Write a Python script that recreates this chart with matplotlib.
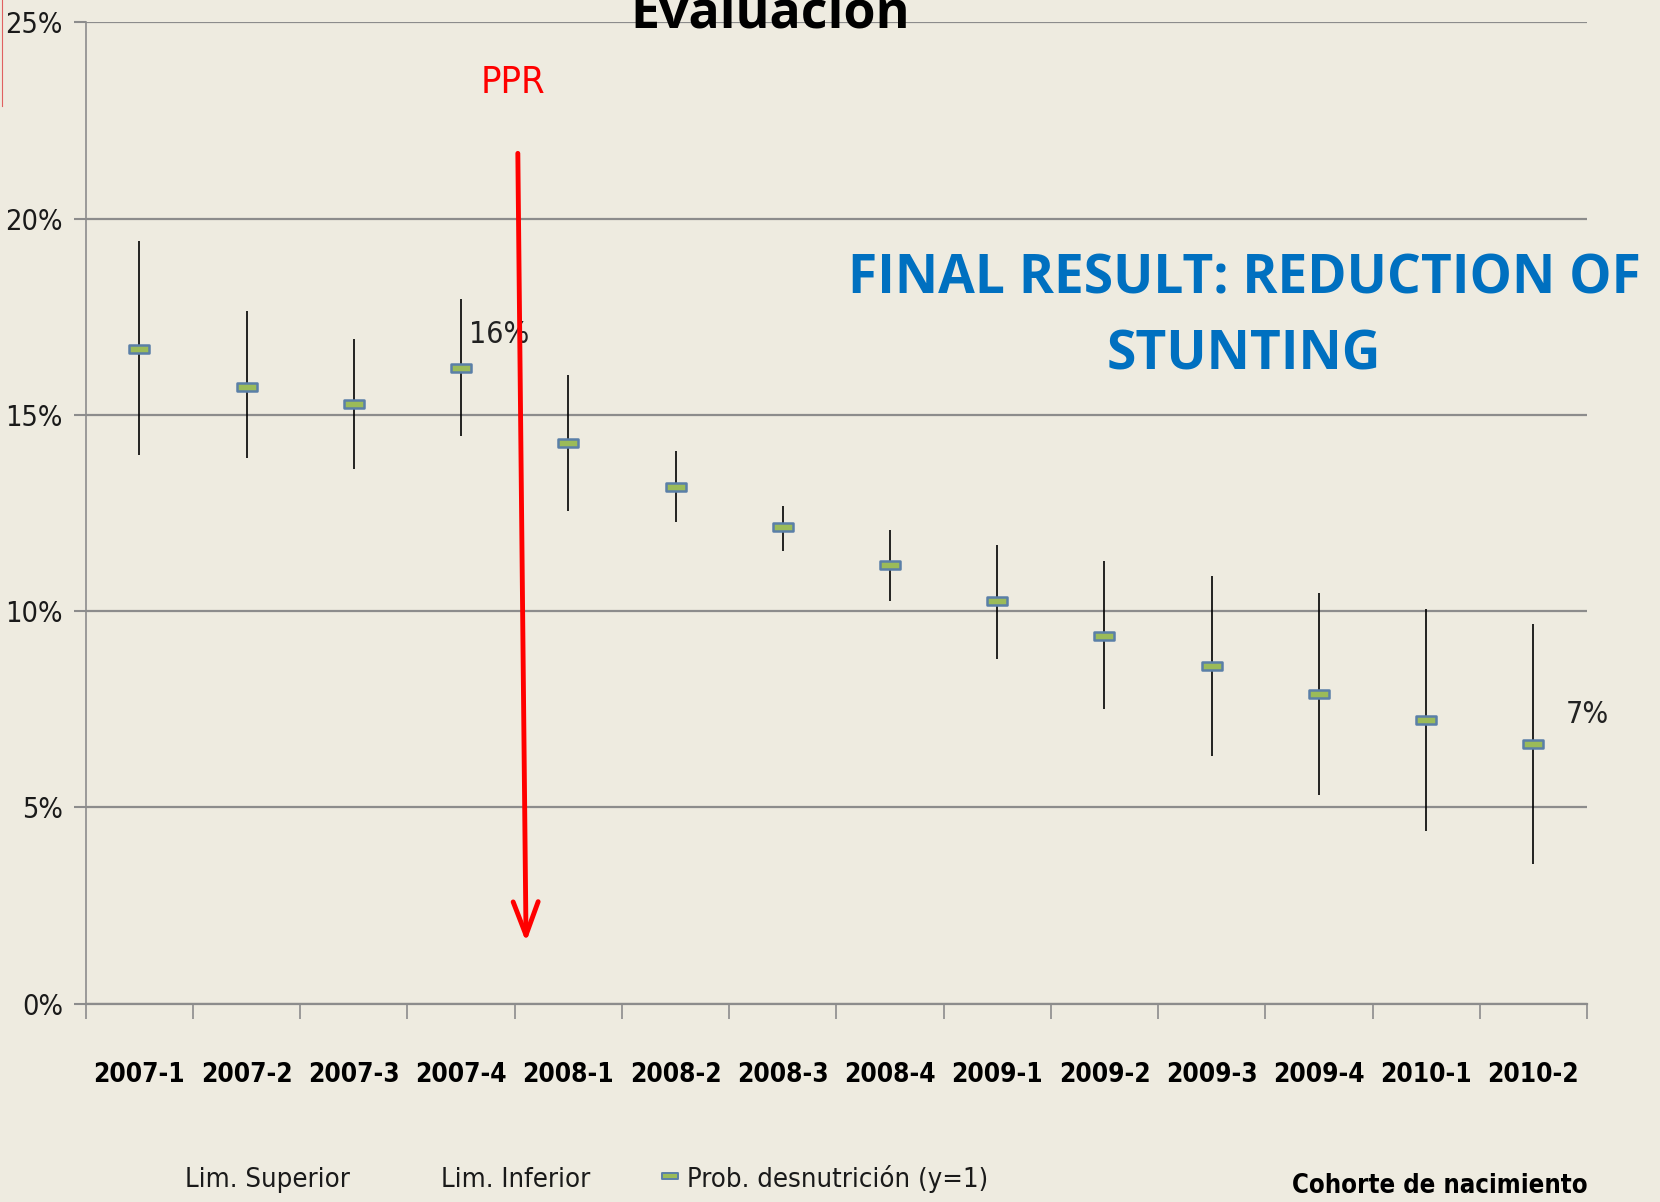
import os
import matplotlib
matplotlib.use("Agg")
import matplotlib.pyplot as plt
from matplotlib.path import Path
from matplotlib.lines import Line2D
from matplotlib import font_manager as fm
from matplotlib.font_manager import FontProperties
import numpy as np

# ---- data ----
cohorts = ["2007-1", "2007-2", "2007-3", "2007-4", "2008-1", "2008-2", "2008-3",
           "2008-4", "2009-1", "2009-2", "2009-3", "2009-4", "2010-1", "2010-2"]
prob = [16.67, 15.70, 15.27, 16.18, 14.29, 13.16, 12.14, 11.17, 10.25, 9.36, 8.60, 7.88, 7.23, 6.61]
lim_sup = [19.44, 17.64, 16.94, 17.96, 16.02, 14.08, 12.68, 12.06, 11.68, 11.27, 10.90, 10.46, 10.06, 9.68]
lim_inf = [13.97, 13.89, 13.62, 14.46, 12.54, 12.27, 11.54, 10.25, 8.79, 7.50, 6.31, 5.31, 4.40, 3.56]
y_ticks = [0, 5, 10, 15, 20, 25]
y_tick_labels = ["0%", "5%", "10%", "15%", "20%", "25%"]

# ---- font selection: prefer a narrow / condensed face ----
all_files = set(f.fname for f in fm.fontManager.ttflist)
try:
    all_files |= set(fm.findSystemFonts())
except Exception:
    pass
by_base = {os.path.basename(p).lower(): p for p in all_files}


def pick(pairs):
    for reg, bold in pairs:
        if reg.lower() in by_base and bold.lower() in by_base:
            return by_base[reg.lower()], by_base[bold.lower()]
    return None


found = pick([("LiberationSansNarrow-Regular.ttf", "LiberationSansNarrow-Bold.ttf"),
              ("NotoSans-Condensed.ttf", "NotoSans-CondensedBold.ttf"),
              ("DejaVuSansCondensed.ttf", "DejaVuSansCondensed-Bold.ttf")])
if found:
    fp_reg = FontProperties(fname=found[0])
    fp_bold = FontProperties(fname=found[1])
else:
    fp_reg = FontProperties(family="Roboto")
    fp_bold = FontProperties(family="Roboto", weight="bold")
fp_title = FontProperties(family="Open Sans", weight="bold")

bg = "#EEEBE0"
grid_c = "#8C8C8C"
W, H = 1660, 1202

fig = plt.figure(figsize=(16.6, 12.02), dpi=100, facecolor=bg)
renderer = fig.canvas.get_renderer()


def fitted_size(fp, s, target_w, cap_px, mix=0.0):
    t = fig.text(0, 0, s, fontproperties=fp, fontsize=20)
    w = t.get_window_extent(renderer).width
    t.remove()
    s_w = 20.0 * target_w / w
    s_h = cap_px / 0.72 / (100.0 / 72.0)
    if s_w >= s_h:
        return s_h
    return s_w ** (1 - mix) * s_h ** mix


def sized(fp, size):
    f = fp.copy()
    f.set_size(size)
    return f


ax = fig.add_axes([0.0517, 0.165, 0.9043, 0.8165])
ax.set_facecolor(bg)

x = np.arange(len(cohorts))
ax.set_xlim(-0.5, len(cohorts) - 0.5)
ax.set_ylim(0, 25)

for s in ["top", "right"]:
    ax.spines[s].set_visible(False)
ax.spines["left"].set_color(grid_c)
ax.spines["bottom"].set_color(grid_c)
ax.spines["left"].set_linewidth(1.2)
ax.spines["bottom"].set_linewidth(1.6)

ytick_size = fitted_size(fp_reg, "20%", 49, 28, mix=0.35)
ax.set_yticks(y_ticks)
ax.set_yticklabels(y_tick_labels, fontproperties=sized(fp_reg, ytick_size), color="#1a1a1a")
ax.tick_params(axis="y", length=8.6, width=1.5, color=grid_c, pad=8)
ax.yaxis.grid(True, color=grid_c, linewidth=1.6)
ax.set_axisbelow(True)

xtick_size = fitted_size(fp_bold, "2007-1", 80, 26, mix=0.3)
ax.set_xticks(x)
ax.set_xticklabels(cohorts, fontproperties=sized(fp_bold, xtick_size), color="black")
ax.set_xticks(np.arange(-0.5, len(cohorts)), minor=True)
ax.tick_params(axis="x", which="major", length=0, pad=42)
ax.tick_params(axis="x", which="minor", length=10.7, width=1.2, color=grid_c)

# error bars
ax.vlines(x, lim_inf, lim_sup, colors="black", linewidth=1.2, zorder=3)

# marker: rectangle
rect = Path([(-1, -0.38), (1, -0.38), (1, 0.38), (-1, 0.38), (-1, -0.38)],
            [Path.MOVETO, Path.LINETO, Path.LINETO, Path.LINETO, Path.CLOSEPOLY])
ax.plot(x, prob, linestyle="none", marker=rect, markersize=15,
        markerfacecolor="#9BBB59", markeredgecolor="#5A7FA8", markeredgewidth=1.8, zorder=4)

# annotations
ax.text(3.075, 16.83, "16%", fontproperties=sized(fp_reg, fitted_size(fp_reg, "16%", 46, 26, mix=0.6)),
        color="#222222", va="baseline", ha="left")
ax.text(13.306, 7.15, "7%", fontproperties=sized(fp_reg, fitted_size(fp_reg, "7%", 33, 26, mix=0.6)),
        color="#222222", va="baseline", ha="left")
ax.text(3.479, 23.2, "PPR", fontproperties=sized(fp_reg, fitted_size(fp_reg, "PPR", 55, 32, mix=0.5)),
        color="#FF0000", va="baseline", ha="center")
ax.annotate("", xy=(3.606, 1.57), xytext=(3.529, 21.66),
            arrowprops=dict(arrowstyle="->,head_length=1.2,head_width=0.45", color="#FF0000",
                            lw=3.5, shrinkA=0, shrinkB=0, mutation_scale=20), zorder=5)

fr_size = fitted_size(fp_title, "FINAL RESULT: REDUCTION OF", 793, 40)
fig.text(1244 / W, 1 - 294 / H, "FINAL RESULT: REDUCTION OF", fontproperties=sized(fp_title, fr_size),
         color="#0070C0", ha="center", va="baseline")
fig.text(1244 / W, 1 - 370 / H, "STUNTING", fontproperties=sized(fp_title, fr_size),
         color="#0070C0", ha="center", va="baseline")

ev_size = fitted_size(fp_title, "Evaluación", 280, 44)
fig.text(770 / W, 1 - 27 / H, "Evaluación", fontproperties=sized(fp_title, ev_size),
         color="black", ha="center", va="baseline")

# legend-like labels at the bottom
leg_fp = sized(fp_reg, fitted_size(fp_reg, "Prob. desnutrición (y=1)", 278, 27, mix=0.2))
base_leg = 1 - 1187 / H
fig.text(185 / W, base_leg, "Lim. Superior", fontproperties=leg_fp, color="#1a1a1a",
         ha="left", va="baseline")
fig.text(441 / W, base_leg, "Lim. Inferior", fontproperties=leg_fp, color="#1a1a1a",
         ha="left", va="baseline")
fig.add_artist(Line2D([670 / W], [1 - 1176 / H], transform=fig.transFigure, marker=rect,
                      markersize=12, markerfacecolor="#9BBB59", markeredgecolor="#5A7FA8",
                      markeredgewidth=1.4, linestyle="none"))
fig.text(687 / W, base_leg, "Prob. desnutrición (y=1)", fontproperties=leg_fp, color="#1a1a1a",
         ha="left", va="baseline")
co_fp = sized(fp_bold, fitted_size(fp_bold, "Cohorte de nacimiento", 267, 28, mix=0.2))
fig.text(1588 / W, 1 - 1193 / H, "Cohorte de nacimiento", fontproperties=co_fp,
         color="black", ha="right", va="baseline")

# thin red mark at left edge
fig.add_artist(Line2D([2 / W, 2 / W], [1, 1 - 106 / H], transform=fig.transFigure,
                      color="#E06060", linewidth=0.8))

fig.savefig("out.png", dpi=100, facecolor=bg)
